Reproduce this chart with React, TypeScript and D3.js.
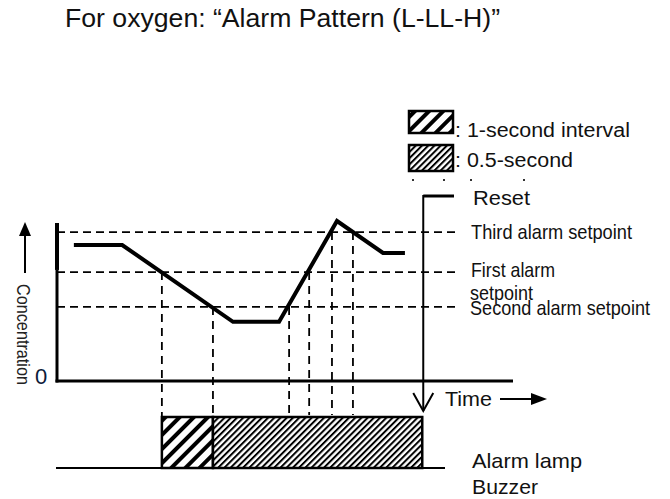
import React from 'react';
import * as d3 from 'd3';

// concentration profile (time 0-100, concentration 0-100)
const timePts = [3.7, 14.3, 38.6, 48.7, 61.4, 71.5, 76.3];
const concPts = [85, 85, 37, 37, 100, 80, 80];

// alarm setpoints
const setpointNames = ['Third alarm setpoint', 'First alarm', 'Second alarm setpoint'];
const setpointValues = [93.1, 68.1, 46.3];

// times where the curve crosses a setpoint, and which setpoint
const crossTimes = [23.0, 34.2, 50.9, 55.3, 60.3, 64.9];
const crossLevels = [68.1, 46.3, 46.3, 68.1, 93.1, 93.1];

// alarm lamp / buzzer timeline
const alarmStart = 23.0;
const alarmFast = 34.2;
const resetTime = 80.1;

const W = 670;
const H = 499;

const App: React.FC = () => {
  const x = d3.scaleLinear().domain([0, 100]).range([57, 513]);
  const y = d3.scaleLinear().domain([0, 100]).range([381, 221]);

  const pts: [number, number][] = timePts.map((t, i) => [t, concPts[i]]);
  const line = d3
    .line<[number, number]>()
    .x((d) => x(d[0]))
    .y((d) => y(d[1]));

  const font = '"Liberation Sans", Arial, sans-serif';
  const boxTop = 417;
  const boxBottom = 468;

  const txt = (s: string, tx: number, ty: number, fs: number, tl: number) => (
    <text x={tx} y={ty} fontSize={fs} textLength={tl} lengthAdjust="spacingAndGlyphs" fill="#111">
      {s}
    </text>
  );

  return (
    <svg width={W} height={H} style={{ position: 'absolute', left: 0, top: 0, background: '#fff' }} fontFamily={font}>
      <defs>
        <pattern id="wide" width={10} height={10} patternUnits="userSpaceOnUse" patternTransform="rotate(45)">
          <rect x={0} y={0} width={10} height={10} fill="#fff" />
          <rect x={0} y={0} width={4} height={10} fill="#000" />
        </pattern>
        <pattern id="fine" width={4.4} height={4.4} patternUnits="userSpaceOnUse" patternTransform="rotate(45)">
          <rect x={0} y={0} width={4.4} height={4.4} fill="#fff" />
          <rect x={0} y={0} width={2} height={4.4} fill="#000" />
        </pattern>
      </defs>

      {/* title */}
      {txt('For oxygen: \u201CAlarm Pattern (L-LL-H)\u201D', 65, 27, 25, 435)}

      {/* legend */}
      <rect x={409} y={111} width={44} height={22} fill="url(#wide)" stroke="#000" strokeWidth={2.5} />
      <rect x={409} y={145} width={44} height={26} fill="url(#fine)" stroke="#000" strokeWidth={2.5} />
      {txt(': 1-second interval', 455, 137, 20, 175)}
      {txt(': 0.5-second', 455, 167, 20, 118)}
      {[412, 443, 470, 523].map((dx, i) => (
        <rect key={i} x={dx} y={179} width={2} height={2} fill="#333" />
      ))}

      {/* horizontal setpoint lines */}
      {setpointValues.map((v, i) => (
        <line
          key={i}
          x1={x(0)}
          x2={x(87.7)}
          y1={y(v)}
          y2={y(v)}
          stroke="#000"
          strokeWidth={1.8}
          strokeDasharray="8,5"
        />
      ))}

      {/* vertical crossing lines */}
      {crossTimes.map((t, i) => (
        <line
          key={i}
          x1={x(t)}
          x2={x(t)}
          y1={y(crossLevels[i])}
          y2={i < 2 ? boxTop : boxTop - 2}
          stroke="#000"
          strokeWidth={1.8}
          strokeDasharray="8,6"
        />
      ))}

      {/* axes */}
      <line x1={x(0)} x2={x(0)} y1={y(98.75)} y2={y(69.4)} stroke="#000" strokeWidth={4} />
      <line x1={x(0)} x2={x(0)} y1={y(69.4)} y2={y(0) + 1.5} stroke="#000" strokeWidth={3} />
      <line x1={x(0) - 1.5} x2={x(100)} y1={y(0)} y2={y(0)} stroke="#000" strokeWidth={3} />
      <text x={35} y={384} fontSize={22} fill="#0d1b3a">0</text>

      {/* concentration label and arrow */}
      <line x1={25} x2={25} y1={273} y2={234} stroke="#000" strokeWidth={2} />
      <path d="M25,222 L31,236 L19,236 Z" fill="#000" />
      <g transform="translate(17,284) rotate(90)">
        <text x={0} y={0} fontSize={19} textLength={101} lengthAdjust="spacingAndGlyphs" fill="#222">
          Concentration
        </text>
      </g>

      {/* concentration curve */}
      <path d={line(pts) ?? ''} fill="none" stroke="#000" strokeWidth={4} strokeLinejoin="miter" />

      {/* setpoint labels */}
      {txt(setpointNames[0], 471, 239, 21, 161)}
      {txt(setpointNames[1], 471, 277, 21, 84)}
      {txt('setpoint', 470, 300, 21, 63)}
      {txt(setpointNames[2], 470, 315, 21, 180)}

      {/* reset */}
      <line x1={x(resetTime) + 1} x2={454} y1={196} y2={196} stroke="#000" strokeWidth={3} />
      <line x1={x(resetTime) + 1} x2={x(resetTime) + 1} y1={195} y2={411} stroke="#000" strokeWidth={2} />
      <path
        d={`M${x(resetTime) - 9},393 L${x(resetTime) + 1},411 L${x(resetTime) + 11},393`}
        fill="none"
        stroke="#000"
        strokeWidth={2}
      />
      {txt('Reset', 473, 205, 21, 57)}

      {/* time label */}
      {txt('Time', 445, 406, 21, 47)}
      <line x1={500} x2={532} y1={399} y2={399} stroke="#000" strokeWidth={2} />
      <path d="M547,399 L531,393 L531,405 Z" fill="#000" />

      {/* alarm lamp / buzzer */}
      <line x1={56} x2={445} y1={boxBottom} y2={boxBottom} stroke="#000" strokeWidth={2} />
      <rect
        x={x(alarmStart)}
        y={boxTop}
        width={x(alarmFast) - x(alarmStart)}
        height={boxBottom - boxTop}
        fill="url(#wide)"
        stroke="#000"
        strokeWidth={2.5}
      />
      <rect
        x={x(alarmFast)}
        y={boxTop}
        width={x(resetTime) - x(alarmFast)}
        height={boxBottom - boxTop}
        fill="url(#fine)"
        stroke="#000"
        strokeWidth={2.5}
      />
      {txt('Alarm lamp', 472, 468, 21, 110)}
      {txt('Buzzer', 472, 494, 21, 66)}
    </svg>
  );
};

export default App;
